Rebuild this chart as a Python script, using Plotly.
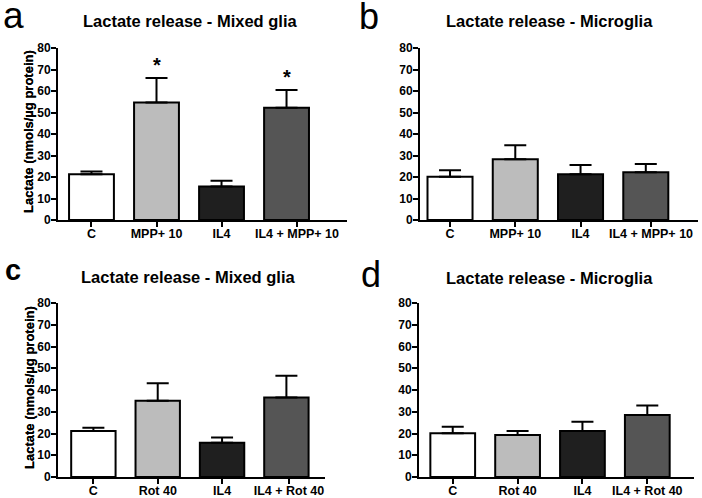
import plotly.graph_objects as go

# ---- data ----
cats_mpp = ["C", "MPP+ 10", "IL4", "IL4 + MPP+ 10"]
cats_rot = ["C", "Rot 40", "IL4", "IL4 + Rot 40"]

mixed_mpp_mean = [21.3, 54.7, 15.6, 52.2]
mixed_mpp_err = [1.3, 11.3, 2.6, 8.3]
micro_mpp_mean = [20.1, 28.3, 21.3, 22.2]
micro_mpp_err = [3.0, 6.5, 4.3, 3.8]
mixed_rot_mean = [21.2, 35.1, 15.7, 36.6]
mixed_rot_err = [1.5, 8.0, 2.5, 9.9]
micro_rot_mean = [20.1, 19.3, 21.2, 28.5]
micro_rot_err = [3.0, 1.9, 4.2, 4.4]

signif_mixed_mpp = [False, True, False, True]

titles = ["Lactate release - Mixed glia", "Lactate release - Microglia",
          "Lactate release - Mixed glia", "Lactate release - Microglia"]
panel_letters = ["a", "b", "c", "d"]
y_title = "Lactate (nmols/µg protein)"
y_ticks = [0, 10, 20, 30, 40, 50, 60, 70, 80]

bar_colors = ["#ffffff", "#bcbcbc", "#1f1f1f", "#555555"]

FONT = "Liberation Sans, Arial, Helvetica, sans-serif"
W, H = 702, 498

# panel geometry in pixels: (left, right, top, bottom), x range, offset of last tick
panels = [
    dict(cats=cats_mpp, mean=mixed_mpp_mean, err=mixed_mpp_err, px=(58, 347, 48, 220), xr=[-0.515, 3.93], last_shift=0.16),
    dict(cats=cats_mpp, mean=micro_mpp_mean, err=micro_mpp_err, px=(420, 698, 48, 220), xr=[-0.46, 3.8], last_shift=0.08),
    dict(cats=cats_rot, mean=mixed_rot_mean, err=mixed_rot_err, px=(58, 325, 303, 477), xr=[-0.55, 3.6], last_shift=0.04),
    dict(cats=cats_rot, mean=micro_rot_mean, err=micro_rot_err, px=(419, 694, 303, 477), xr=[-0.52, 3.72], last_shift=0.0),
]
title_pos = [(190, 21), (549, 21), (188, 277), (549, 278)]
letter_pos = [(1, -7), (357, -6), (3, 252), (359, 251.5)]
letter_size = [37, 36, 29, 36]

fig = go.Figure()
annotations = []
layout = {}

for i, p in enumerate(panels):
    n = "" if i == 0 else str(i + 1)
    xa, ya = "x" + n, "y" + n
    l, r, t, b = p["px"]
    idx = list(range(len(p["cats"])))
    tickpos = [k + (p["last_shift"] if k == idx[-1] else 0) for k in idx]
    fig.add_trace(go.Bar(
        x=idx, y=p["mean"], xaxis=xa, yaxis=ya,
        marker=dict(color=bar_colors, line=dict(color="black", width=2)),
        width=0.69,
        error_y=dict(type="data", symmetric=False, array=p["err"],
                     arrayminus=[0] * len(p["err"]), color="black",
                     thickness=2, width=11),
        hovertext=p["cats"],
        showlegend=False,
    ))
    layout["xaxis" + n] = dict(
        domain=[l / W, r / W], anchor=ya, range=p["xr"],
        tickvals=tickpos, ticktext=p["cats"],
        showline=True, linewidth=2, linecolor="black", ticks="outside",
        ticklen=5, tickwidth=2, tickcolor="black", showgrid=False,
        zeroline=False, automargin=False, ticklabelstandoff=-4,
        tickfont=dict(family=FONT, size=12.5, color="black", weight="bold"),
        fixedrange=True,
    )
    layout["yaxis" + n] = dict(
        domain=[1 - b / H, 1 - t / H], anchor=xa, range=[0, 80],
        tickvals=y_ticks, showline=True, linewidth=2, linecolor="black",
        ticks="outside", ticklen=5, tickwidth=2, tickcolor="black",
        showgrid=False, zeroline=False, ticklabelstandoff=-2, automargin=False,
        tickfont=dict(family=FONT, size=12, color="black", weight="bold"),
        fixedrange=True,
    )
    # y title
    annotations.append(dict(
        text=y_title, textangle=-90, xref="paper", yref="paper",
        x=29 / W, y=1 - ((t + b) / 2 - 2) / H, xanchor="center", yanchor="middle",
        showarrow=False, font=dict(family=FONT, size=13, color="black", weight="bold"),
    ))
    # panel title
    tx, ty = title_pos[i]
    annotations.append(dict(
        text=titles[i], xref="paper", yref="paper", x=tx / W, y=1 - ty / H,
        xanchor="center", yanchor="middle", showarrow=False,
        font=dict(family=FONT, size=16.5, color="black", weight="bold"),
    ))
    # panel letter
    lx, ly = letter_pos[i]
    annotations.append(dict(
        text=panel_letters[i], xref="paper", yref="paper", x=lx / W, y=1 - ly / H,
        xanchor="left", yanchor="top", showarrow=False,
        font=dict(family=FONT, size=letter_size[i], color="black",
                  weight="bold" if i == 2 else "normal"),
    ))

# significance stars for panel a
for j, s in enumerate(signif_mixed_mpp):
    if s:
        annotations.append(dict(
            text="*", xref="x", yref="y", x=j,
            y=mixed_mpp_mean[j] + mixed_mpp_err[j] + 6, xanchor="center",
            yanchor="middle", showarrow=False,
            font=dict(family=FONT, size=20, color="black", weight="bold"),
        ))

fig.update_layout(
    template="none",
    width=W, height=H, margin=dict(l=0, r=0, t=0, b=0, autoexpand=False),
    paper_bgcolor="white", plot_bgcolor="white",
    annotations=annotations, **layout,
)

fig.write_html(
    "out.html",
    config={"displayModeBar": False},
    post_script="document.body.style.margin='0';document.body.style.overflow='hidden';",
)
